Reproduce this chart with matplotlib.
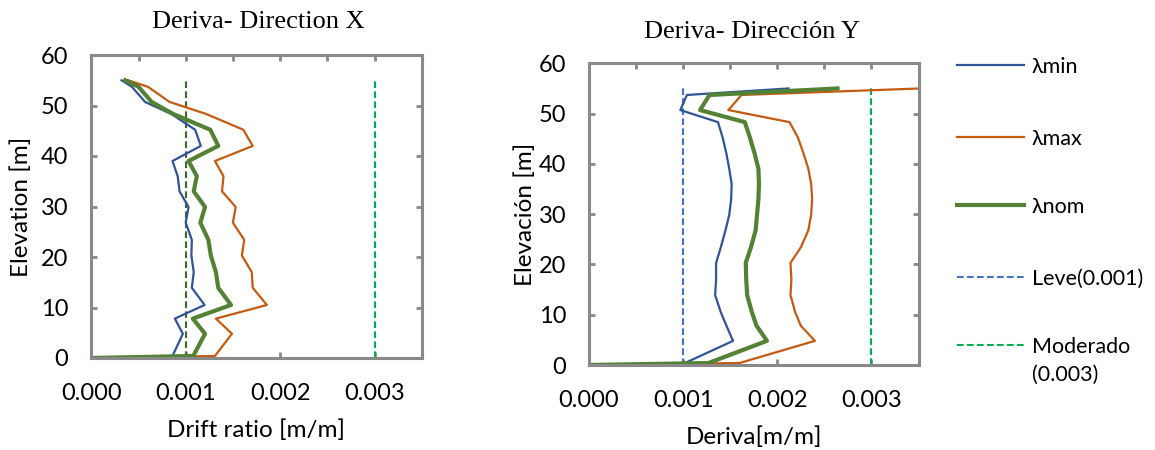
import matplotlib
matplotlib.use("Agg")
import matplotlib.pyplot as plt
from matplotlib.lines import Line2D
from matplotlib.ticker import MultipleLocator, FormatStrFormatter

plt.rcParams["font.family"] = ["Lato", "DejaVu Sans"]

# Storey elevations [m]
elevation = [0, 0.4, 4.8, 7.8, 10.5, 13.9, 17.0, 20.3, 23.4, 26.8,
             29.9, 33.0, 36.0, 39.0, 42.0, 45.2, 48.3, 50.7, 53.7, 55.0]

# Inter-storey drift ratio, direction X [m/m]
drift_x_min = [0, 0.00086, 0.00097, 0.000885, 0.00120, 0.001065, 0.001085, 0.00106, 0.001065, 0.00100,
               0.00103, 0.000935, 0.000915, 0.00086, 0.00116, 0.00110, 0.00085, 0.00057, 0.00043, 0.00032]
drift_x_max = [0, 0.00131, 0.00149, 0.00132, 0.00186, 0.00171, 0.00170, 0.001595, 0.00162, 0.00150,
               0.00153, 0.001385, 0.00140, 0.00131, 0.00171, 0.00161, 0.00122, 0.00083, 0.00060, 0.00039]
drift_x_nom = [0, 0.00108, 0.001205, 0.001075, 0.00148, 0.001345, 0.00132, 0.001266, 0.00124, 0.001155,
               0.001205, 0.001085, 0.001118, 0.00103, 0.001345, 0.00126, 0.00087, 0.00064, 0.00050, 0.00036]

# Inter-storey drift ratio, direction Y [m/m]
drift_y_min = [0, 0.00102, 0.00153, 0.00146, 0.00140, 0.00134, 0.00135, 0.00135, 0.00140, 0.00145,
               0.00149, 0.00151, 0.001515, 0.00149, 0.00146, 0.00142, 0.00137, 0.00097, 0.00104, 0.00212]
drift_y_max = [0, 0.00160, 0.00240, 0.00225, 0.00219, 0.00214, 0.00215, 0.00214, 0.00225, 0.00233,
               0.00236, 0.00237, 0.00236, 0.00233, 0.00228, 0.00222, 0.00213, 0.00148, 0.00162, 0.00352]
drift_y_nom = [0, 0.00127, 0.00189, 0.00178, 0.00173, 0.00168, 0.00167, 0.001665, 0.00172, 0.00177,
               0.001785, 0.00180, 0.001805, 0.00180, 0.00176, 0.00171, 0.001655, 0.00118, 0.00128, 0.00264]

# Damage thresholds
leve_limit = 0.001
moderado_limit = 0.003
limit_top = 55.0

series_labels = ["λmin", "λmax", "λnom"]
limit_labels = ["Leve(0.001)", "Moderado\n(0.003)"]

C_MIN = "#2F5597"
C_MAX = "#C55A11"
C_NOM = "#548235"
C_LEVE = "#4472C4"
C_LEVE_X = "#3B6B2A"
C_MOD = "#00B050"
C_FRAME = "#898989"

TICK_FS = 17
LABEL_FS = 17.5
LEGEND_FS = 15.5

W, H = 1155, 450
fig = plt.figure(figsize=(W / 100, H / 100), dpi=100)


def px_rect(x0, y0, x1, y1):
    return [x0 / W, 1 - y1 / H, (x1 - x0) / W, (y1 - y0) / H]


ax_x = fig.add_axes(px_rect(91.3, 55, 421.7, 358))
ax_y = fig.add_axes(px_rect(589, 63.3, 918.5, 365))

styles = {
    "min": dict(color=C_MIN, lw=1.6),
    "max": dict(color=C_MAX, lw=1.6),
    "nom": dict(color=C_NOM, lw=3.0),
}
dash = (3.2, 1.6)


def draw(ax, dmin, dmax, dnom, leve_color):
    ax.plot(dmin, elevation, **styles["min"], zorder=3)
    ax.plot(dmax, elevation, **styles["max"], zorder=3)
    ax.plot(dnom, elevation, **styles["nom"], zorder=4)
    ax.plot([leve_limit, leve_limit], [0, limit_top], color=leve_color, lw=1.5,
            dashes=dash, zorder=2)
    ax.plot([moderado_limit, moderado_limit], [0, limit_top], color=C_MOD, lw=1.5,
            dashes=dash, zorder=2)
    ax.set_xlim(0, 0.0035)
    ax.set_ylim(0, 60)
    ax.xaxis.set_major_locator(MultipleLocator(0.001))
    ax.xaxis.set_minor_locator(MultipleLocator(0.0005))
    ax.xaxis.set_major_formatter(FormatStrFormatter("%.3f"))
    ax.yaxis.set_major_locator(MultipleLocator(10))
    for s in ax.spines.values():
        s.set_color(C_FRAME)
        s.set_linewidth(2.2)
        s.set_zorder(5)
    ax.tick_params(which="both", direction="in", color=C_FRAME, length=4.3, width=2.0,
                   top=True, right=True, labelsize=TICK_FS, labelcolor="black")
    ax.tick_params(axis="x", which="minor", bottom=False, top=True)
    ax.tick_params(axis="y", which="minor", left=False, right=False)
    ax.tick_params(axis="y", pad=16.5)
    ax.tick_params(axis="x", pad=18)


draw(ax_x, drift_x_min, drift_x_max, drift_x_nom, C_LEVE_X)
draw(ax_y, drift_y_min, drift_y_max, drift_y_nom, C_LEVE)

ax_x.set_xlabel("Drift ratio [m/m]", fontsize=LABEL_FS, va="center")
ax_x.xaxis.set_label_coords(0.5, (358 - 430) / 303)
ax_x.set_ylabel("Elevation [m]", fontsize=LABEL_FS, va="center")
ax_x.yaxis.set_label_coords((21 - 91.3) / 330.4, 0.5)

ax_y.set_xlabel("Deriva[m/m]", fontsize=LABEL_FS, va="center")
ax_y.xaxis.set_label_coords(0.5, (365 - 437) / 301.7)
ax_y.set_ylabel("Elevación [m]", fontsize=LABEL_FS, va="center")
ax_y.yaxis.set_label_coords((525 - 589) / 329.5, 0.5)

fig.text(258 / W, 1 - 28 / H, "Deriva- Direction X", family="Liberation Serif",
         fontsize=19, ha="center", va="baseline")
fig.text(752 / W, 1 - 38 / H, "Deriva- Dirección Y", family="Liberation Serif",
         fontsize=19, ha="center", va="baseline")

# Legend drawn in figure pixel positions; multi-line labels hang below the handle
legend_rows = [
    (series_labels[0], dict(color=C_MIN, lw=1.6), 65),
    (series_labels[1], dict(color=C_MAX, lw=1.6), 137),
    (series_labels[2], dict(color=C_NOM, lw=3.0), 205),
    (limit_labels[0], dict(color=C_LEVE, lw=1.5, dashes=dash), 277),
    (limit_labels[1], dict(color=C_MOD, lw=1.5, dashes=dash), 345),
]
for label, st, yp in legend_rows:
    fig.add_artist(Line2D([957 / W, 1024 / W], [1 - yp / H, 1 - yp / H],
                          transform=fig.transFigure, **st))
    for i, line in enumerate(label.split("\n")):
        fig.text(1032 / W, 1 - (yp + 8 + 28 * i) / H, line, fontsize=LEGEND_FS,
                 ha="left", va="baseline")

fig.savefig("out.png", dpi=100)
